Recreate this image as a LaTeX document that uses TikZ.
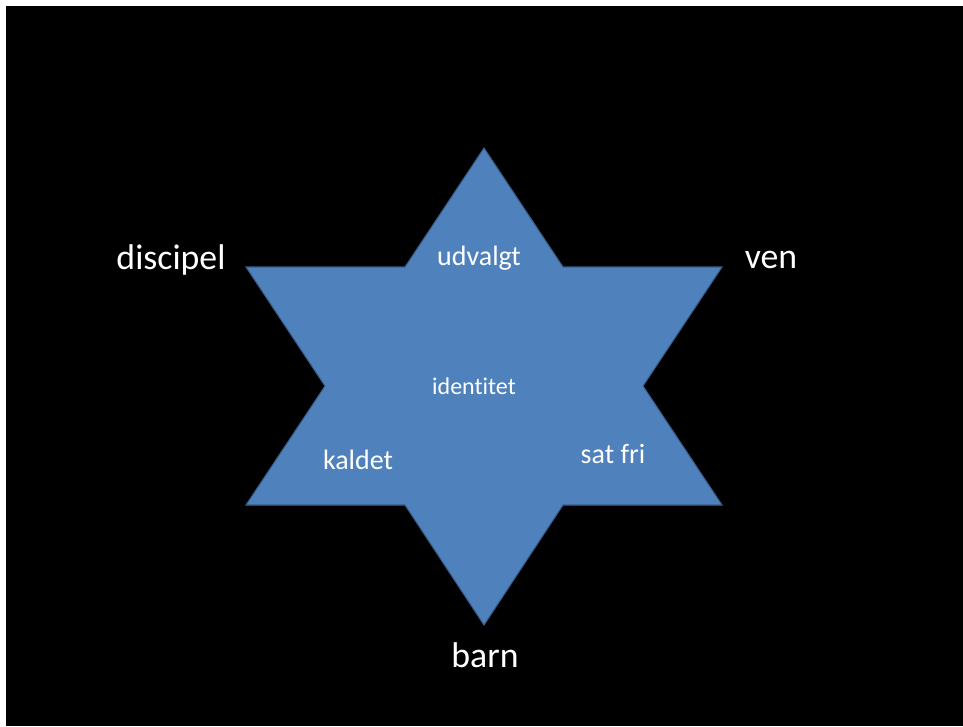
\documentclass[tikz,border=0pt]{standalone}
\usepackage{fontspec}
\setmainfont[Ligatures=NoCommon]{Carlito}
\usepackage{tikz}
\definecolor{starblue}{HTML}{4F81BD}
\definecolor{starline}{HTML}{385D8A}
\tikzstyle{star}=[fill=starblue, draw=starline, line width=0.8pt, line join=miter]
\tikzstyle{biglabel}=[text=white, inner sep=0, font=\fontsize{26.8}{31}\selectfont]
\tikzstyle{starlabel}=[text=white, inner sep=0, font=\fontsize{21}{25}\selectfont]
\tikzstyle{smalllabel}=[text=white, inner sep=0, font=\fontsize{18}{22}\selectfont]
\tikzstyle{slide}=[x=0.75pt, y=-0.75pt,
                   % White frame round the black slide.
                   execute at begin picture={\useasboundingbox (0, 0) rectangle (963, 726);}]
\begin{document}
\begin{tikzpicture}[slide]
        \fill[white] (0, 0) rectangle (963, 726);
        \fill[black] (6, 6) rectangle (963, 726);
        % Outer tips and inner corners of the star.
        \coordinate (top) at (484, 148);
        \coordinate (upright) at (722, 267);
        \coordinate (lowright) at (722, 505);
        \coordinate (bottom) at (484, 625);
        \coordinate (lowleft) at (246, 505);
        \coordinate (upleft) at (246, 267);
        \coordinate (in1) at (563, 267);
        \coordinate (in2) at (643, 386);
        \coordinate (in3) at (563, 505);
        \coordinate (in4) at (405, 505);
        \coordinate (in5) at (325, 386);
        \coordinate (in6) at (405, 267);
        \draw[star] (top) -- (in1) -- (upright) -- (in2) -- (lowright) -- (in3)
                    -- (bottom) -- (in4) -- (lowleft) -- (in5) -- (upleft) -- (in6) -- cycle;
        \node[biglabel]   (discipel)  at (171, 260) {discipel};
        \node[biglabel]   (ven)       at (771, 260) {ven};
        \node[biglabel]   (barn)      at (485, 655) {barn};
        \node[starlabel]  (udvalgt)   at (479, 258) {udvalgt};
        \node[smalllabel] (identitet) at (474, 386) {identitet};
        \node[starlabel]  (kaldet)    at (358, 460) {kaldet};
        \node[starlabel]  (satfri)    at (613, 454) {sat fri};
    \end{tikzpicture}
\end{document}
